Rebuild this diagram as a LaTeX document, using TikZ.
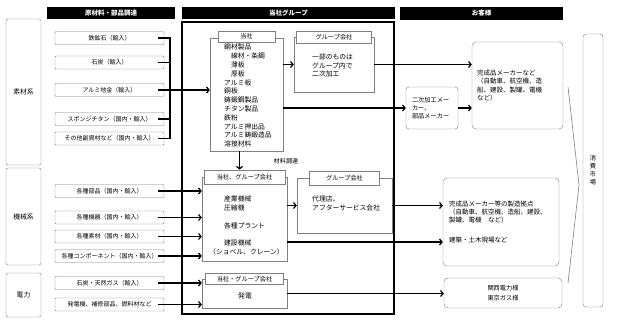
\documentclass[tikz,border=0pt]{standalone}
\usepackage{fontspec}
\setmainfont{Noto Sans CJK JP}
\usetikzlibrary{arrows.meta,positioning}
\newcommand{\txtsize}[2]{\fontsize{#1}{#2}\selectfont}

\begin{document}
\begin{tikzpicture}[
  x=1pt, y=-1pt,
  head/.style={fill=black, text=white, font=\txtsize{6.5}{7}\bfseries, minimum height=12pt, inner sep=0pt},
  cat/.style={draw=gray, rounded corners=2pt, font=\txtsize{6.8}{7}, minimum width=35pt, inner sep=0pt},
  src/.style={draw=gray, fill=white, rounded corners=1pt, font=\txtsize{6}{6.5}, minimum width=109pt, minimum height=13pt, inner sep=0pt},
  body/.style={draw=gray, fill=white, inner sep=0pt},
  tab/.style={draw=gray, fill=white, font=\txtsize{6.2}{7}, minimum height=11pt, inner sep=0pt},
  txt/.style={align=left, inner sep=0pt, font=\txtsize{6.8}{#1}},
  txt/.default={8.8},
  cust/.style={draw=gray, rounded corners=4pt, fill=white, align=left, inner sep=0pt, font=\txtsize{6.5}{8.3}},
  link/.style={draw, line width=1.2pt},
  arrow/.style={link, -{Straight Barb[length=2.5pt,width=6pt]}},
]
\useasboundingbox (0,0) rectangle (617,322);

% column heads
\node[head, minimum width=128pt] (head_raw) at (111,13) {原材料・部品調達};
\node[head, minimum width=213pt] (head_grp) at (288.5,13) {当社グループ};
\node[head, minimum width=163pt, minimum height=13pt] (head_cust) at (481.5,13.5) {お客様};

% categories
\node[cat, minimum height=146pt] (cat_mat) at (23.5,92) {素材系};
\node[cat, minimum height=97pt] (cat_mach) at (23.5,216.5) {機械系};
\node[cat, minimum height=44pt] (cat_pow) at (23.5,295) {電力};

% raw materials and parts
\node[src] (ore) at (109.5,38) {鉄鉱石（輸入）};
\node[src] (coal) at (109.5,62.5) {石炭（輸入）};
\node[src] (alu) at (109.5,90) {アルミ地金（輸入）};
\node[src] (ti) at (109.5,119) {スポンジチタン（国内・輸入）};
\node[src] (misc) at (109.5,138.5) {その他副資材など（国内・輸入）};
\node[src] (parts) at (109.5,191) {各種部品（国内・輸入）};
\node[src] (equip) at (109.5,217.5) {各種機器（国内・輸入）};
\node[src] (mats) at (109.5,236.5) {各種素材（国内・輸入）};
\node[src] (comp) at (109.5,256) {各種コンポーネント（国内・輸入）};
\node[src] (fuel) at (109.5,283) {石炭・天然ガス（輸入）};
\node[src] (gen) at (109.5,304.5) {発電機、補修部品、燃料材など};

% group frame
\node[draw, line width=1.2pt, minimum width=212pt, minimum height=292pt, inner sep=0pt] (grp) at (288,168) {};

% 当社
\node[body, minimum width=73pt, minimum height=113pt] (tosha) at (246.5,94.5) {};
\node[tab, minimum width=57pt] (tosha_tab) at ([yshift=1.5pt]tosha.north) {当社};
\node[txt, anchor=north west] (tosha_txt) at (224,44) {鋼材製品\\\hspace*{1em}線材・条鋼\\\hspace*{1em}薄板\\\hspace*{1em}厚板\\アルミ板\\銅板\\鋳鍛鋼製品\\チタン製品\\鉄粉\\アルミ押出品\\アルミ鋳鍛造品\\溶接材料};

% グループ会社 (素材)
\node[body, minimum width=80pt, minimum height=55pt] (sub1) at (334,64.5) {};
\node[tab, minimum width=75pt, minimum height=12pt] (sub1_tab) at (sub1.north) {グループ会社};
\node[txt=8.5, anchor=west] (sub1_txt) at (312,65.5) {一部のものは\\グループ内で\\二次加工};

% 当社、グループ会社 (機械)
\node[body, minimum width=85pt, minimum height=84pt] (mach) at (244.5,219) {};
\node[tab, minimum width=81pt, minimum height=14pt] (mach_tab) at (mach.north) {当社、グループ会社};
\node[txt, anchor=west] (mach_txt) at (209,225.5) {\hspace*{2.2em}産業機械\\\hspace*{2.2em}圧縮機\\[8.8pt]\hspace*{2.2em}各種プラント\\[8.8pt]\hspace*{2.2em}建設機械\\（ショベル、クレーン）};

% グループ会社 (機械)
\node[body, minimum width=95pt, minimum height=55pt] (sub2) at (344.5,205.5) {};
\node[tab, minimum width=70pt, minimum height=14pt] (sub2_tab) at (sub2.north) {グループ会社};
\node[txt, anchor=west] (sub2_txt) at (312,203.5) {代理店、\\アフターサービス会社};

% 電力
\node[body, minimum width=85pt, minimum height=29pt] (pow) at (244.5,293.5) {};
\node[tab, minimum width=78pt] (pow_tab) at (pow.north) {当社・グループ会社};
\node[txt] (pow_txt) at (245,296) {発電};

% customers
\node[cust, text width=81pt, minimum width=91pt, minimum height=87pt] (fin1) at (517.5,85.5) {完成品メーカーなど\\（自動車、航空機、造\\船、建設、製罐、電機\\など）};
\node[cust, rounded corners=3pt, text width=40pt, minimum width=52pt, minimum height=42pt, font=\txtsize{6.2}{8}] (sec) at (432,108) {二次加工メー\\カー、\\部品メーカー};
\node[cust, text width=104pt, minimum width=116pt, minimum height=88pt] (fin2) at (501,222) {完成品メーカー等の製造拠点\\（自動車、航空機、造船、建設、\\製罐、電機　など）\\[12pt]建築・土木現場など};
\node[cust, minimum width=118pt, minimum height=30pt, align=center, font=\txtsize{6.2}{9.5}] (gas) at (503,293) {関西電力様\\東京ガス様};

% market
\node[cust, rounded corners=3pt, minimum width=20pt, minimum height=273pt, align=center, font=\txtsize{6.2}{8}] (market) at (593,170.5) {消\\費\\市\\場};
\coordinate (chev_top) at (568,87);
\coordinate (chev_tip) at (579,185);
\coordinate (chev_bot) at (568,283);
\draw[gray, line width=0.6pt] (chev_top) -- (chev_tip) -- (chev_bot);

% raw material bus
\coordinate (bus) at (170,0);
\draw[link] ([xshift=-6pt]ore.east) -- (ore.east -| bus) -- (misc.east -| bus) -- ([xshift=-6pt]misc.east);
\draw[link] ([xshift=-6pt]coal.east) -- (coal.east -| bus);
\draw[link] ([xshift=-6pt]ti.east) -- (ti.east -| bus);
\draw[arrow] ([xshift=-6pt]alu.east) -- (alu.east -| tosha.west);

% machinery and power inputs
\draw[arrow] ([xshift=-6pt]parts.east) -- (parts.east -| mach.west);
\draw[arrow] ([xshift=-6pt]equip.east) -- (equip.east -| mach.west);
\draw[arrow] ([xshift=-6pt]mats.east) -- (mats.east -| mach.west);
\draw[arrow] ([xshift=-6pt]comp.east) -- (comp.east -| mach.west);
\draw[arrow] ([xshift=-6pt]fuel.east) -- (fuel.east -| pow.west);
\draw[arrow] ([xshift=-6pt]gen.east) -- (gen.east -| pow.west);

% inside the group and out to customers
\draw[arrow] (sub1.west -| tosha.east) -- (sub1.west);
\draw[arrow] (sub1.east) -- (sub1.east -| fin1.west);
\draw[arrow] (sec.west -| tosha.east) -- (sec.west);
\draw[arrow] (sec.east) -- (sec.east -| fin1.west);
\draw[arrow] ([xshift=-7pt]tosha.south) -- ([xshift=-7pt]tosha.south |- mach_tab.north);
\node[txt, font=\txtsize{6.2}{7}] (proc_lbl) at (286,161) {材料調達};
\draw[arrow] (sub2.west -| mach.east) -- (sub2.west);
\draw[arrow] (sub2.east) -- (sub2.east -| fin2.west);
\draw[arrow] ([yshift=-23pt]mach.east) -- ([yshift=-23pt]mach.east -| fin2.west);
\draw[arrow] (pow.east) -- (pow.east -| gas.west);
\end{tikzpicture}
\end{document}
